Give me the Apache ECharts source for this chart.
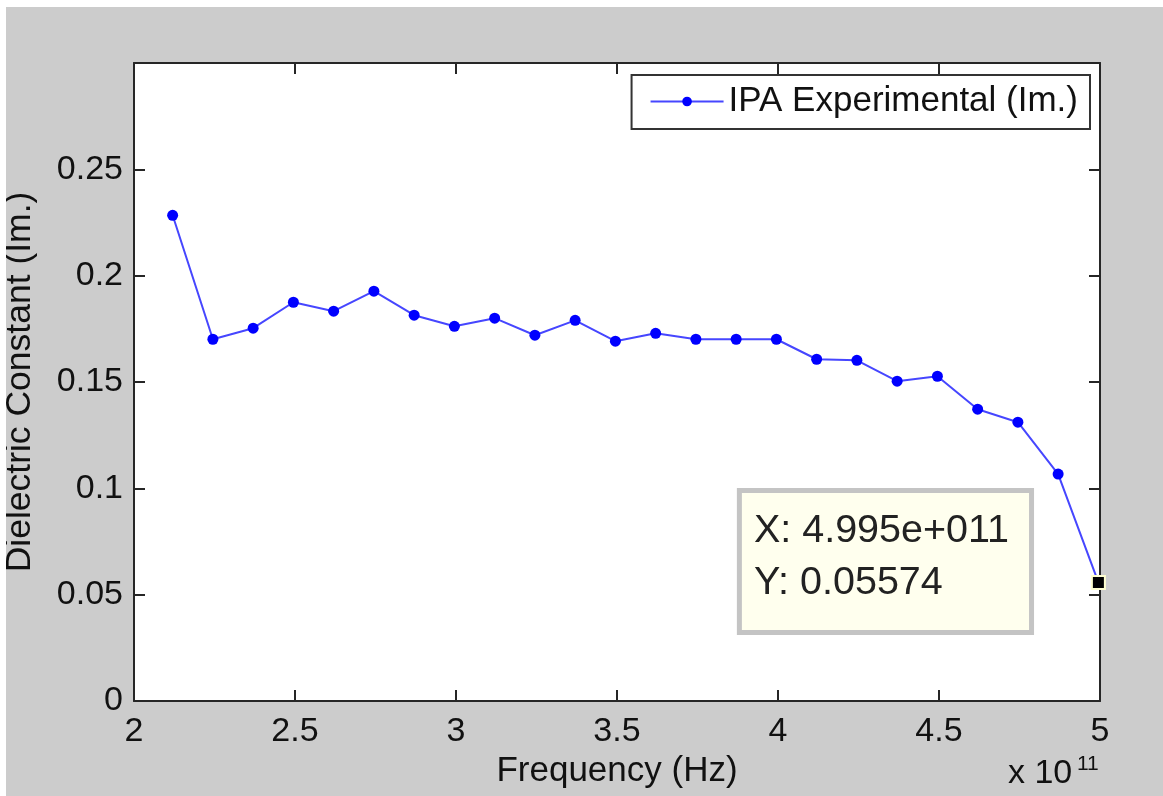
<!DOCTYPE html>
<html>
<head>
<meta charset="utf-8">
<script src="https://cdn.jsdelivr.net/npm/echarts@6/dist/echarts.min.js"></script>
<style>
  html, body { margin: 0; padding: 0; background: #fff; width: 1163px; height: 796px; overflow: hidden; }
  #chart { position: absolute; left: 6px; top: 7px; width: 1157px; height: 789px; }
</style>
</head>
<body>
<div id="chart"></div>
<script>
// frequency in units of 1e11 Hz
const freq = [2.12, 2.245, 2.37, 2.495, 2.62, 2.745, 2.87, 2.995, 3.12, 3.245, 3.37, 3.495,
  3.62, 3.745, 3.87, 3.995, 4.12, 4.245, 4.37, 4.495, 4.62, 4.745, 4.87, 4.995]
const dielIm = [0.2284, 0.1701, 0.1753, 0.1875, 0.1833, 0.1927, 0.1814, 0.1762, 0.1800, 0.1720, 0.1790, 0.1692,
  0.1729, 0.1701, 0.1701, 0.1701, 0.1607, 0.1602, 0.1504, 0.1527, 0.1372, 0.1311, 0.1067, 0.05574]
const xTicks = {min: 2, max: 5, interval: 0.5}
const yTicks = {min: 0, max: 0.3, interval: 0.05}

const font = "'Liberation Sans', Arial, sans-serif"
const axisColor = '#262626'
const last = freq.length - 1

const chart = echarts.init(document.getElementById('chart'))

function boxAxis(extra) {
  return Object.assign({
    type: 'value',
    axisLine: {show: true, onZero: false, lineStyle: {color: axisColor, width: 2}},
    axisTick: {show: true, inside: true, length: 11, lineStyle: {color: axisColor, width: 2}},
    splitLine: {show: false},
    axisLabel: {show: false}
  }, extra)
}

const labelStyle = {show: true, color: '#111', fontFamily: font, fontSize: 34}

chart.setOption({
  backgroundColor: '#cccccc',
  animation: false,
  grid: {
    left: 128, top: 56, right: 63, bottom: 95,
    outerBoundsMode: 'none',
    containLabel: false,
    show: true, backgroundColor: '#fff', borderWidth: 0
  },
  legend: {
    right: 73,
    top: 68,
    orient: 'horizontal',
    backgroundColor: '#fff',
    borderColor: '#333',
    borderWidth: 2,
    borderRadius: 0,
    padding: [9, 12, 10, 18],
    itemWidth: 73,
    itemHeight: 12,
    itemGap: 5,
    textStyle: {color: '#111', fontFamily: font, fontSize: 35},
    data: ['IPA Experimental (Im.)']
  },
  xAxis: [
    boxAxis({
      position: 'bottom',
      ...xTicks,
      name: 'Frequency (Hz)',
      nameLocation: 'middle',
      nameGap: 49,
      nameTextStyle: {color: '#111', fontFamily: font, fontSize: 35},
      axisLabel: Object.assign({margin: 14}, labelStyle)
    }),
    boxAxis({position: 'top', ...xTicks})
  ],
  yAxis: [
    boxAxis({
      position: 'left',
      ...yTicks,
      name: 'Dielectric Constant (Im.)',
      nameLocation: 'middle',
      nameGap: 96,
      nameTextStyle: {color: '#111', fontFamily: font, fontSize: 35.5},
      axisLabel: Object.assign({margin: 11, showMaxLabel: false}, labelStyle)
    }),
    boxAxis({position: 'right', ...yTicks})
  ],
  graphic: [
    {
      type: 'text',
      left: 1002,
      top: 750,
      style: {text: 'x 10', fontFamily: font, fontSize: 34, fill: '#111'}
    },
    {
      type: 'text',
      left: 1071,
      top: 747,
      style: {text: '11', fontFamily: font, fontSize: 21, fill: '#111'}
    }
  ],
  series: [
    {
      name: 'IPA Experimental (Im.)',
      type: 'line',
      xAxisIndex: 0,
      yAxisIndex: 0,
      data: freq.map((f, i) => [f, dielIm[i]]),
      symbol: 'circle',
      symbolSize: 11,
      itemStyle: {color: '#0000ff'},
      lineStyle: {color: '#4646ff', width: 2},
      markPoint: {
        symbol: 'rect',
        symbolSize: 13,
        itemStyle: {color: '#000', borderColor: '#ffffd0', borderWidth: 2},
        label: {
          show: true,
          position: [-349, -82],
          formatter: p => 'X: ' + p.data.coord[0].toFixed(3) + 'e+011\nY: ' + p.data.coord[1],
          fontFamily: font,
          fontSize: 39.5,
          lineHeight: 52,
          color: '#222',
          align: 'left',
          verticalAlign: 'top',
          backgroundColor: '#ffffee',
          borderColor: '#c4c4c4',
          borderWidth: 5,
          padding: [12, 20, 21, 12]
        },
        data: [{coord: [freq[last], dielIm[last]]}]
      }
    }
  ]
})
</script>
</body>
</html>
